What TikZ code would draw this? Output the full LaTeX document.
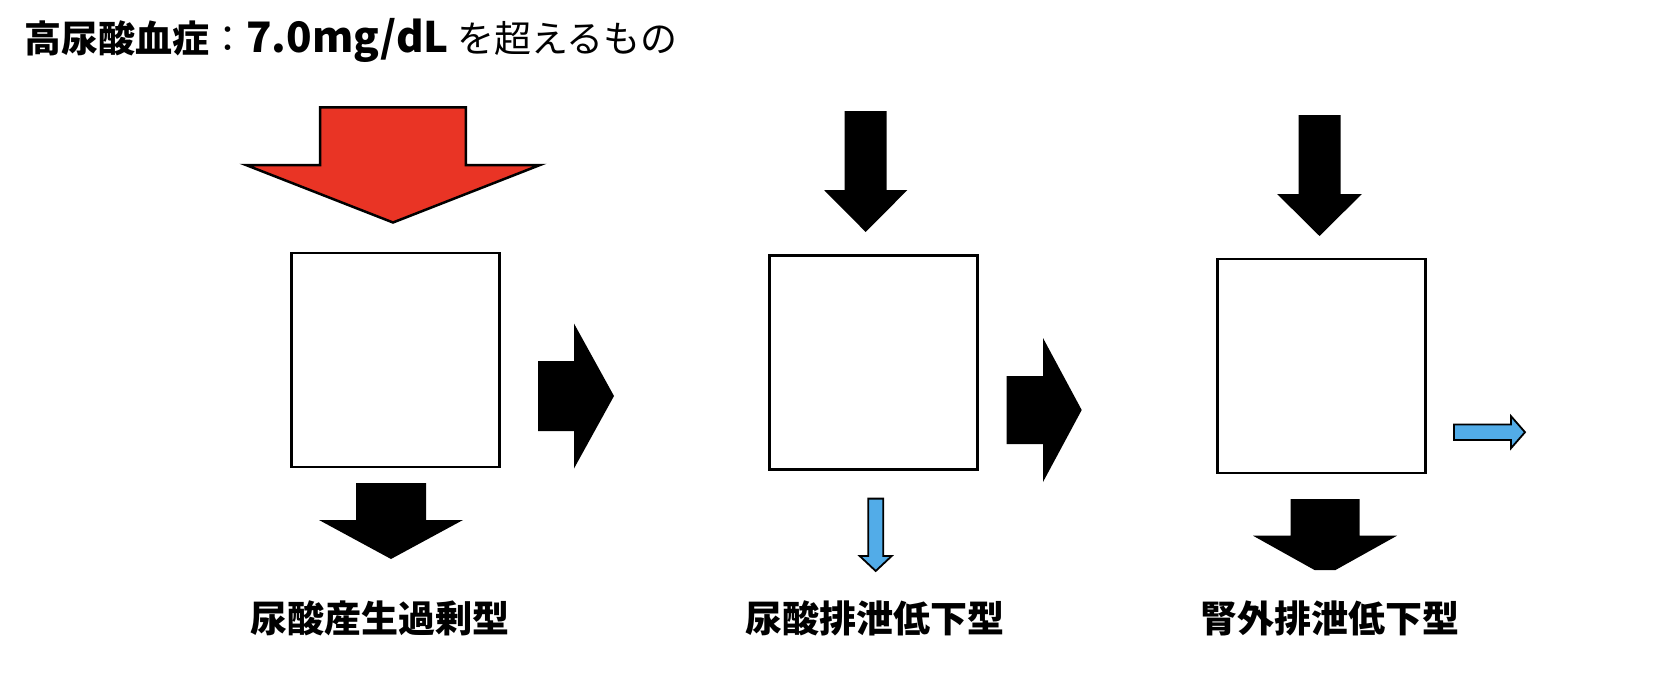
\documentclass[tikz,border=0pt]{standalone}
\usepackage{fontspec}
\setmainfont{Noto Sans CJK JP}
\usepackage{xcolor}
\definecolor{hured}{RGB}{233,52,37}
\definecolor{hublue}{RGB}{82,172,232}
% block arrows: [style] centre, start, shoulder, tip, shaft half, head half
\newcommand{\downblock}[7][]{%
	\fill[#1] ({#2-#6},#3) -- ({#2+#6},#3) -- ({#2+#6},#4) -- ({#2+#7},#4)
		-- (#2,#5) -- ({#2-#7},#4) -- ({#2-#6},#4) -- cycle;}
\newcommand{\rightblock}[7][]{%
	\fill[#1] (#3,{#2-#6}) -- (#4,{#2-#6}) -- (#4,{#2-#7}) -- (#5,#2)
		-- (#4,{#2+#7}) -- (#4,{#2+#6}) -- (#3,{#2+#6}) -- cycle;}

\begin{document}
\begin{tikzpicture}[x=1pt,y=-1pt,
		box/.style={draw,line width=2.7,minimum width=208,minimum height=214,inner sep=0},
		redarr/.style={fill=hured,draw=black,line width=2.5,line join=miter},
		bluearr/.style={fill=hublue,draw=black,line width=1.8,line join=miter},
		lbl/.style={font=\bfseries\fontsize{37}{40}\selectfont,inner sep=0}]
	\useasboundingbox (0,0) rectangle (1666,680);

	% The title
	\node[anchor=west,inner sep=0,font=\fontsize{37}{40}\selectfont] (title) at (24,40)
		{\bfseries 高尿酸血症\mdseries ：\bfseries{\fontsize{42}{44}\selectfont 7.0mg/dL}\mdseries\ を超えるもの};

	% The boxes
	\node[box] (b1) at (395.3,360) {};
	\node[box] (b2) at (873.8,362.3) {};
	\node[box] (b3) at (1321.3,366) {};

	% In and out
	\downblock[redarr]{393}{107.3}{165}{222.5}{72.8}{147}
	\downblock{391}{483}{520}{559}{35}{72}
	\rightblock{396}{538}{574}{614}{35}{72.5}
	\downblock{865.7}{111}{190}{232}{21}{41.7}
	\downblock[bluearr]{875.7}{498.6}{556}{571}{7.5}{16}
	\rightblock{410}{1006.7}{1043}{1081.7}{34}{72}
	\downblock{1319.5}{115}{194}{236}{21}{42.4}
	\rightblock[bluearr]{432.2}{1454}{1511}{1525}{7.7}{16}
	\fill (1290.5,499) -- (1359.5,499) -- (1359.5,535.7) -- (1397,535.7)
		-- (1335.5,570) -- (1314.5,570) -- (1253,535.7) -- (1290.5,535.7) -- cycle;

	% The labels
	\node[lbl] (l1) at (379.5,618) {尿酸産生過剰型};
	\node[lbl] (l2) at (875,618) {尿酸排泄低下型};
	\node[lbl] (l3) at (1330,618) {腎外排泄低下型};
\end{tikzpicture}
\end{document}
